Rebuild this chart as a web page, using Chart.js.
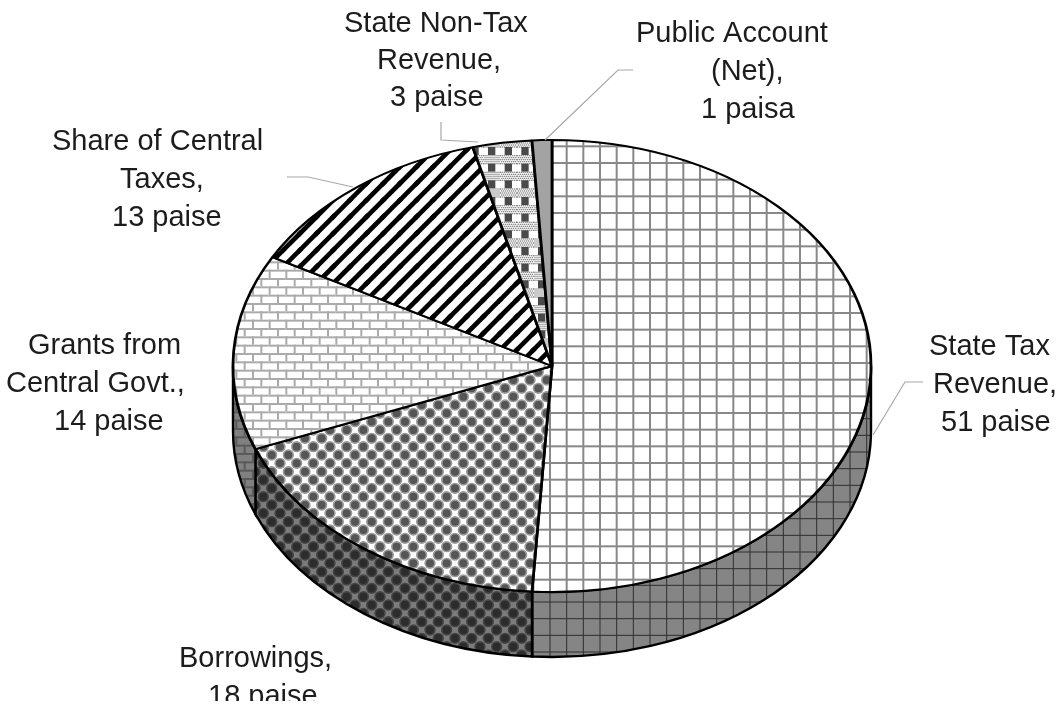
<!DOCTYPE html>
<html>
<head>
<meta charset="utf-8">
<title>Rupee comes from</title>
<script src="https://cdn.jsdelivr.net/npm/chart.js@4"></script>
<style>
  html, body { margin: 0; padding: 0; background: #fff; }
  #wrap { width: 1059px; height: 706px; position: relative; }
  canvas { filter: blur(0.5px); }
</style>
</head>
<body>
<div id="wrap"><canvas id="myChart"></canvas></div>
<script>
// the data
var categories = ["State Tax Revenue", "Borrowings", "Grants from Central Govt.", "Share of Central Taxes", "State Non-Tax Revenue", "Public Account (Net)"];
var paise = [51, 18, 14, 13, 3, 1];
var labelLines = [
  ["State Tax", "Revenue,", "51 paise"],
  ["Borrowings,", "18 paise"],
  ["Grants from", "Central Govt.,", "14 paise"],
  ["Share of Central", "Taxes,", "13 paise"],
  ["State Non-Tax", "Revenue,", "3 paise"],
  ["Public Account", "(Net),", "1 paisa"]
];

// where the text and leader lines sit, [x, baseline y] per line
var labelPos = [
  [[929, 355], [933, 393], [941, 431]],
  [[179, 667], [208, 705]],
  [[28, 354], [6, 392], [54, 430]],
  [[52, 150], [120, 188], [112, 226]],
  [[344, 32], [377, 69], [390, 106]],
  [[636, 42], [711, 80], [701, 118]]
];
var leaders = [
  [[923, 382], [905, 382], [873, 435]],
  [[287, 177], [308, 177], [353, 187]],
  [[441, 122], [441, 140], [478, 142]],
  [[633, 70], [618, 70], [545, 140]]
];

var squash = 226 / 319;
var depth = 65;

// 6 repeats of a 50 unit cell fit a 100px tile, so the pattern needs no resampling
function tile(bg, draw) {
  var c = document.createElement("canvas");
  c.width = 100; c.height = 100;
  var g = c.getContext("2d");
  g.fillStyle = bg;
  g.fillRect(0, 0, 100, 100);
  for (var i = -1; i < 7; i++) {
    for (var j = -1; j < 7; j++) {
      g.setTransform(1 / 3, 0, 0, 1 / 3, i * 100 / 6, j * 100 / 6);
      draw(g);
    }
  }
  return g.createPattern(c, "repeat");
}

function gridTile(bg, line, w) {
  return tile(bg, function (g) {
    g.fillStyle = line;
    g.fillRect(-w / 2, 0, w, 50);
    g.fillRect(0, -w / 2, 50, w);
  });
}

function brickTile(bg, line) {
  return tile(bg, function (g) {
    g.fillStyle = line;
    g.fillRect(0, 0, 50, 6);
    g.fillRect(0, 25, 50, 6);
    g.fillRect(0, 0, 6, 25);
    g.fillRect(25, 25, 6, 25);
  });
}

function dotTile(bg, ring, core) {
  return tile(bg, function (g) {
    [[0, 0], [25, 25]].forEach(function (p) {
      g.beginPath();
      g.arc(p[0], p[1], 17, 0, Math.PI * 2);
      g.fillStyle = ring;
      g.fill();
      g.beginPath();
      g.arc(p[0], p[1], 12, 0, Math.PI * 2);
      g.fillStyle = core;
      g.fill();
    });
  });
}

function stripeTile() {
  return tile("#fff", function (g) {
    g.strokeStyle = "#000";
    g.lineWidth = 14;
    g.beginPath();
    g.moveTo(-5, 55);
    g.lineTo(55, -5);
    g.stroke();
  });
}

function checkTile() {
  return tile("#fff", function (g) {
    g.fillStyle = "#8a8a8a";
    for (var y = 0; y < 25; y += 6) {
      for (var x = (y % 12 ? 3 : 0); x < 50; x += 6) {
        g.fillRect(x, y, 4, 4);
      }
    }
    g.fillStyle = "#4a4a4a";
    g.fillRect(14, 26, 22, 24);
  });
}

// top face and side wall patterns, with where each one starts on the page
var topFills = [
  { p: gridTile("#fff", "#888", 6), x: 0, y: 13 },
  { p: dotTile("#fff", "#999", "#555"), x: 5, y: 5 },
  { p: brickTile("#fff", "#aaa"), x: 2, y: 3 },
  { p: stripeTile(), x: 0, y: 0 },
  { p: checkTile(), x: 0, y: 5 },
  { p: tile("#a3a3a3", function () {}), x: 0, y: 0 }
];
var wallFills = [
  { p: gridTile("#858585", "#2e2e2e", 3), x: 0, y: 2 },
  { p: dotTile("#7c7c7c", "#444", "#2c2c2c"), x: 5, y: 5 },
  { p: brickTile("#808080", "#5a5a5a"), x: 2, y: 3 }
];

function alignFills(ctx, list) {
  var inv = ctx.getTransform().inverse();
  list.forEach(function (f) {
    f.p.setTransform(inv.multiply(new DOMMatrix().translate(f.x, f.y)));
  });
}

var pie3d = {
  id: "pie3d",
  beforeDatasetDraw: function (chart) {
    var ctx = chart.ctx;
    var arcs = chart.getDatasetMeta(0).data;
    ctx.save();
    alignFills(ctx, wallFills);
    arcs.forEach(function (arc, i) {
      var a0 = Math.max(arc.startAngle, 0);
      var a1 = Math.min(arc.endAngle, Math.PI);
      if (a1 <= a0) return;
      var rx = arc.outerRadius, ry = rx * squash;
      ctx.beginPath();
      ctx.ellipse(arc.x, arc.y, rx, ry, 0, a0, a1);
      ctx.ellipse(arc.x, arc.y + depth, rx, ry, 0, a1, a0, true);
      ctx.closePath();
      ctx.fillStyle = wallFills[i].p;
      ctx.fill();
      ctx.lineWidth = 2.4;
      ctx.strokeStyle = "#000";
      ctx.stroke();
    });
    ctx.restore();

    // squash the library's round pie into the tilted top face
    var cy = arcs[0].y;
    ctx.save();
    ctx.translate(0, cy);
    ctx.scale(1, squash);
    ctx.translate(0, -cy);
    alignFills(ctx, topFills);
  },
  afterDatasetDraw: function (chart) {
    chart.ctx.restore();
  },
  afterDraw: function (chart) {
    var ctx = chart.ctx;
    ctx.save();
    ctx.strokeStyle = "#a8a8a8";
    ctx.lineWidth = 1.2;
    leaders.forEach(function (l) {
      ctx.beginPath();
      l.forEach(function (p, i) {
        if (i) ctx.lineTo(p[0], p[1]); else ctx.moveTo(p[0], p[1]);
      });
      ctx.stroke();
    });
    // the source picture is cut off just under the last label
    ctx.beginPath();
    ctx.rect(0, 0, 1059, 701);
    ctx.clip();
    ctx.font = '29px "Liberation Sans"';
    ctx.fillStyle = "#1c1c1c";
    ctx.textAlign = "left";
    ctx.textBaseline = "alphabetic";
    labelLines.forEach(function (lines, i) {
      lines.forEach(function (t, j) {
        ctx.fillText(t, labelPos[i][j][0], labelPos[i][j][1]);
      });
    });
    ctx.restore();
  }
};

new Chart("myChart", {
  type: "pie",
  data: {
    labels: categories,
    datasets: [{
      data: paise,
      backgroundColor: topFills.map(function (f) { return f.p; }),
      borderColor: "#000",
      borderWidth: 2.8,
      clip: false
    }]
  },
  options: {
    responsive: true,
    maintainAspectRatio: false,
    animation: false,
    events: [],
    radius: 319,
    layout: { padding: { left: 45, top: 26, right: 0, bottom: 0 } },
    plugins: {
      legend: { display: false },
      title: { display: false },
      tooltip: { enabled: false }
    }
  },
  plugins: [pie3d]
});
</script>
</body>
</html>
